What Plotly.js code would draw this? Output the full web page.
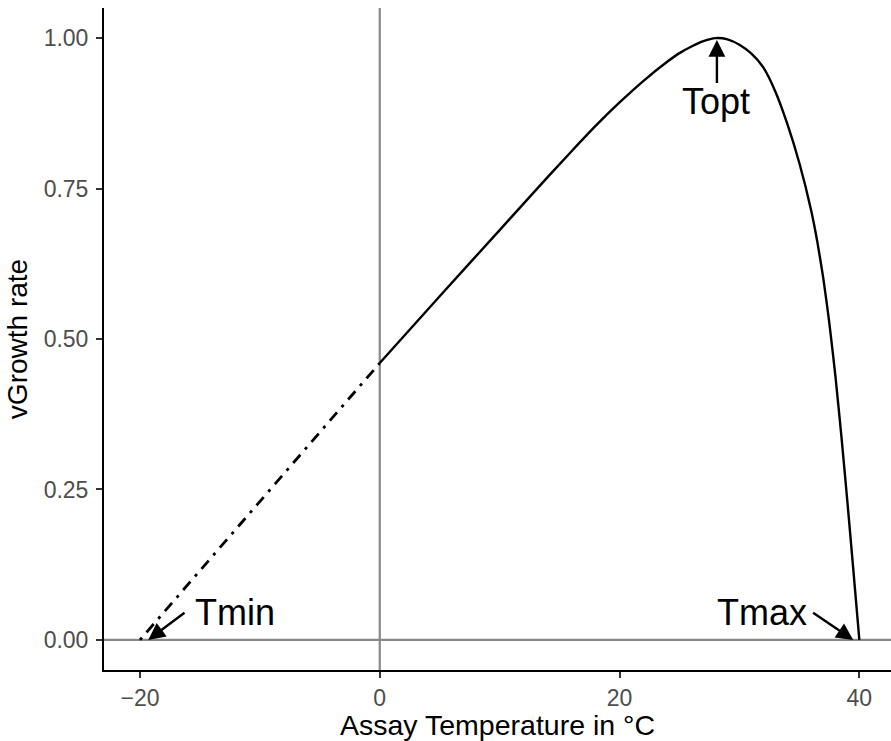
<!DOCTYPE html>
<html>
<head>
<meta charset="utf-8">
<script src="https://cdn.plot.ly/plotly-3.0.1.min.js"></script>
<style>html,body{margin:0;padding:0;background:#fff;}#chart{width:891px;height:741px;}</style>
</head>
<body>
<div id="chart"></div>
<script>
// Solid fitted curve (temperature, growth rate)
const tempSolid = [0, 5, 10, 14, 16, 18, 20, 22, 24, 25, 26, 27, 28, 29, 30, 31, 32, 33, 34, 35, 36, 36.5, 37, 37.5, 38, 38.5, 39, 39.5, 40];
const rateSolid = [0.46, 0.571, 0.681, 0.769, 0.812, 0.854, 0.893, 0.929, 0.961, 0.975, 0.986, 0.995, 1.0, 0.998, 0.989, 0.974, 0.951, 0.911, 0.857, 0.792, 0.712, 0.661, 0.6, 0.526, 0.439, 0.339, 0.23, 0.116, 0.0];
// Extrapolated part (dash-dot)
const tempExtrap = [-20, 0];
const rateExtrap = [0, 0.46];
// Labels
const labelNames = ["Tmin", "Topt", "Tmax"];
const xTicks = [-20, 0, 20, 40];
const yTicks = [0, 0.25, 0.5, 0.75, 1.0];
const yTickText = ["0.00", "0.25", "0.50", "0.75", "1.00"];

const FONT = "Liberation Sans, Arial, sans-serif";

const traces = [
  {x: tempExtrap, y: rateExtrap, mode: "lines", type: "scatter",
   line: {color: "#000", width: 2.8, dash: "3px,7px,11px,7px"}, hoverinfo: "skip"},
  {x: tempSolid, y: rateSolid, mode: "lines", type: "scatter",
   line: {color: "#000", width: 2.4, shape: "spline", smoothing: 0.6}, hoverinfo: "skip"}
];

const arrowCommon = {xref: "x", yref: "y", axref: "x", ayref: "y", text: "", showarrow: true,
  arrowhead: 2, arrowsize: 1.4, arrowwidth: 2.4, arrowcolor: "#000", standoff: 0, startstandoff: 0};
const textCommon = {xref: "x", yref: "y", showarrow: false, font: {family: FONT, size: 36, color: "#000"},
  xanchor: "center", yanchor: "middle"};

const layout = {
  width: 891, height: 741,
  margin: {l: 104, r: 0, t: 8, b: 71},
  paper_bgcolor: "#fff", plot_bgcolor: "#fff",
  showlegend: false,
  font: {family: FONT},
  xaxis: {
    range: [-23, 42.64], showgrid: false, zeroline: false,
    showline: true, linecolor: "#000", linewidth: 2,
    ticks: "outside", ticklen: 6, tickwidth: 2, tickcolor: "#333",
    tickvals: xTicks,
    tickfont: {family: FONT, size: 23, color: "#4D4D4D"},
    title: {text: "Assay Temperature in °C", font: {family: FONT, size: 28.5, color: "#000"}, standoff: 8}
  },
  yaxis: {
    range: [-0.05, 1.05], showgrid: false, zeroline: false,
    showline: true, linecolor: "#000", linewidth: 2,
    ticks: "outside", ticklen: 6, tickwidth: 2, tickcolor: "#333",
    tickvals: yTicks, ticktext: yTickText,
    ticklabelstandoff: 3,
    tickfont: {family: FONT, size: 23, color: "#4D4D4D"},
    title: {text: "vGrowth rate", font: {family: FONT, size: 28, color: "#000"}, standoff: 8}
  },
  shapes: [
    {type: "line", xref: "x", yref: "paper", x0: 0, x1: 0, y0: 0, y1: 1, layer: "below",
     line: {color: "#888", width: 2.2}},
    {type: "line", xref: "paper", yref: "y", x0: 0, x1: 1, y0: 0, y1: 0, layer: "below",
     line: {color: "#888", width: 2.2}}
  ],
  annotations: [
    Object.assign({}, arrowCommon, {x: 28.12, y: 0.997, ax: 28.12, ay: 0.923}),
    Object.assign({}, arrowCommon, {x: -19.31, y: 0.0, ax: -16.16, ay: 0.047}),
    Object.assign({}, arrowCommon, {x: 39.49, y: 0.0, ax: 36.02, ay: 0.047}),
    Object.assign({}, textCommon, {x: -12.08, y: 0.045, text: labelNames[0]}),
    Object.assign({}, textCommon, {x: 28.03, y: 0.895, text: labelNames[1]}),
    Object.assign({}, textCommon, {x: 31.92, y: 0.045, text: labelNames[2]})
  ]
};

Plotly.newPlot("chart", traces, layout, {staticPlot: true, displayModeBar: false});
</script>
</body>
</html>
